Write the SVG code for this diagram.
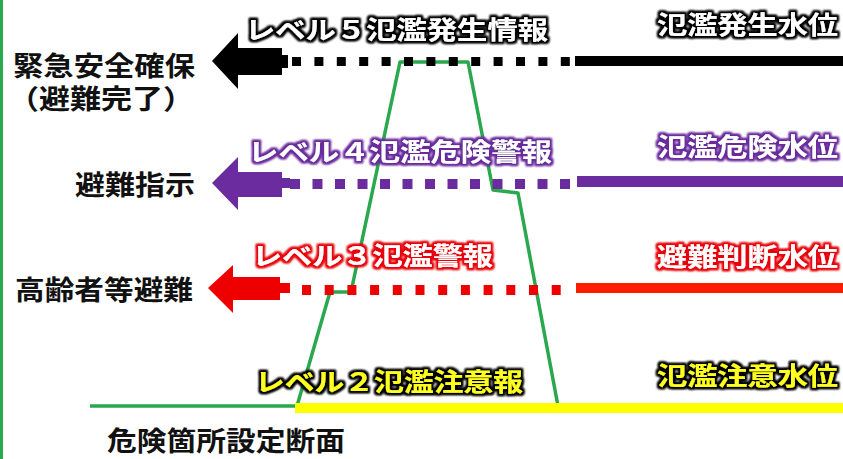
<svg xmlns="http://www.w3.org/2000/svg" width="843" height="459" viewBox="0 0 843 459">
<defs>
<style>
text{font-family:"Noto Sans CJK JP","Noto Sans CJK SC",sans-serif;font-weight:bold}
.lbl{font-size:25px}
.side{font-size:27px;fill:#111;font-weight:bold}
.w{fill:#fff}
.y{fill:#ffff22}
.levee{fill:none;stroke:#2ba84f;stroke-width:3.5;stroke-linejoin:round}
</style>
<filter id="gk" x="-10%" y="-40%" width="120%" height="180%">
<feMorphology in="SourceAlpha" operator="dilate" radius="2.2" result="d"/>
<feGaussianBlur in="d" stdDeviation="1.3" result="b"/>
<feFlood flood-color="#000"/>
<feComposite in2="b" operator="in" result="g"/>
<feMerge><feMergeNode in="g"/><feMergeNode in="g"/><feMergeNode in="SourceGraphic"/></feMerge>
</filter>
<filter id="gp" x="-10%" y="-40%" width="120%" height="180%">
<feMorphology in="SourceAlpha" operator="dilate" radius="2.2" result="d"/>
<feGaussianBlur in="d" stdDeviation="1.3" result="b"/>
<feFlood flood-color="#6a2c9e"/>
<feComposite in2="b" operator="in" result="g"/>
<feMerge><feMergeNode in="g"/><feMergeNode in="g"/><feMergeNode in="SourceGraphic"/></feMerge>
</filter>
<filter id="gr" x="-10%" y="-40%" width="120%" height="180%">
<feMorphology in="SourceAlpha" operator="dilate" radius="2.2" result="d"/>
<feGaussianBlur in="d" stdDeviation="1.3" result="b"/>
<feFlood flood-color="#e8000a"/>
<feComposite in2="b" operator="in" result="g"/>
<feMerge><feMergeNode in="g"/><feMergeNode in="g"/><feMergeNode in="SourceGraphic"/></feMerge>
</filter>
</defs>
<rect width="843" height="459" fill="#fff"/>
<rect x="0" y="0" width="3" height="459" fill="#2ba84f"/>

<g id="levee">
<polyline class="levee" points="90,406 297,406 330,292 351,292 400,62 468,62 493,190 518,193 558,406"/>
</g>

<g id="connectors">
<g id="line5">
<line x1="292" y1="61.5" x2="572" y2="61.5" stroke="#000" stroke-width="9" stroke-dasharray="9 13.4"/>
<rect x="575" y="56" width="268" height="10" fill="#000"/>
<polygon points="212,61 238,33 238,48 282,48 282,55 288,55 288,68 282,68 282,75 238,75 238,89" fill="#000"/>
</g>
<g id="line4">
<line x1="290" y1="184" x2="572" y2="184" stroke="#6a2c9e" stroke-width="10" stroke-dasharray="10 12.5"/>
<rect x="577" y="176" width="266" height="11" fill="#6a2c9e"/>
<polygon points="212,183 238,157 238,172 282,172 282,178 290,178 290,188 282,188 282,197 238,197 238,210" fill="#6a2c9e"/>
</g>
<g id="line3">
<line x1="302" y1="290" x2="572" y2="290" stroke="#ee0000" stroke-width="10" stroke-dasharray="9 13.7"/>
<rect x="576" y="283" width="267" height="10" fill="#ff1a00"/>
<polygon points="208,288 233,265 233,277 280,277 280,283 290,283 290,293 280,293 280,300 233,300 233,313" fill="#ee0000"/>
</g>
<g id="line2">
<rect x="295" y="403" width="548" height="10" fill="#ffff00"/>
</g>
</g>

<g id="level5">
<text class="lbl w" x="245" y="39" textLength="303" lengthAdjust="spacingAndGlyphs" filter="url(#gk)">レベル５氾濫発生情報</text>
<text class="lbl w" x="657" y="34" textLength="181" lengthAdjust="spacingAndGlyphs" filter="url(#gk)">氾濫発生水位</text>
<text class="side" x="13" y="76" textLength="182" lengthAdjust="spacingAndGlyphs">緊急安全確保</text>
<text class="side" x="8" y="109" textLength="186" lengthAdjust="spacingAndGlyphs">（避難完了）</text>
</g>
<g id="level4">
<text class="lbl w" x="248" y="161" textLength="304" lengthAdjust="spacingAndGlyphs" filter="url(#gp)">レベル４氾濫危険警報</text>
<text class="lbl w" x="657" y="156" textLength="181" lengthAdjust="spacingAndGlyphs" filter="url(#gp)">氾濫危険水位</text>
<text class="side" x="75" y="195" textLength="120" lengthAdjust="spacingAndGlyphs">避難指示</text>
</g>
<g id="level3">
<text class="lbl w" x="252" y="265" textLength="241" lengthAdjust="spacingAndGlyphs" filter="url(#gr)">レベル３氾濫警報</text>
<text class="lbl w" x="657" y="266" textLength="181" lengthAdjust="spacingAndGlyphs" filter="url(#gr)">避難判断水位</text>
<text class="side" x="15" y="300" textLength="178" lengthAdjust="spacingAndGlyphs">高齢者等避難</text>
</g>
<g id="level2">
<text class="lbl y" x="255" y="391" textLength="268" lengthAdjust="spacingAndGlyphs" filter="url(#gk)">レベル２氾濫注意報</text>
<text class="lbl y" x="657" y="385" textLength="181" lengthAdjust="spacingAndGlyphs" filter="url(#gk)">氾濫注意水位</text>
</g>
<g id="caption">
<text class="side" x="107" y="451" textLength="238" lengthAdjust="spacingAndGlyphs">危険箇所設定断面</text>
</g>
</svg>
